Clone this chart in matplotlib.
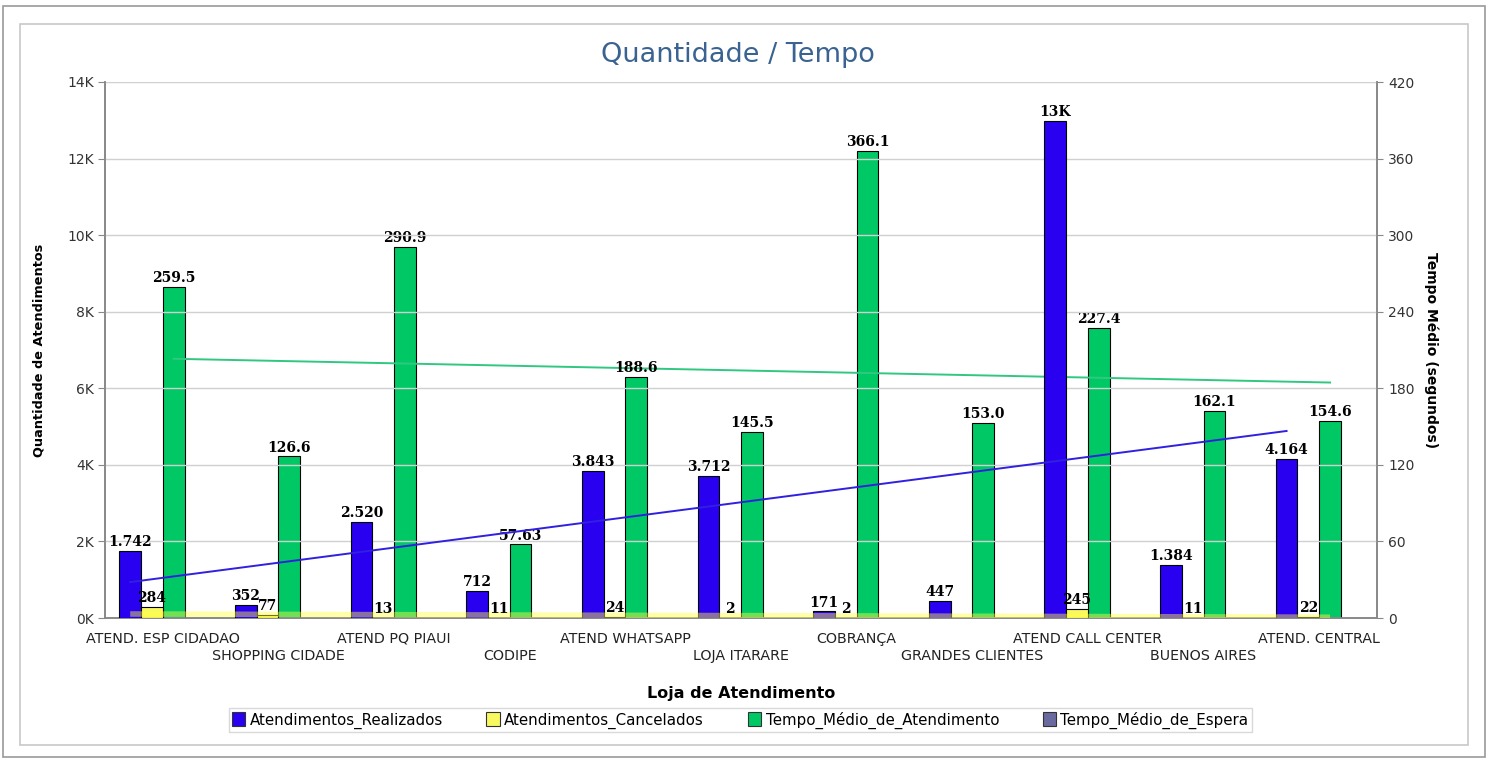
import numpy as np
import matplotlib
matplotlib.use("Agg")
import matplotlib.pyplot as plt
from matplotlib.patches import Rectangle, Patch
from matplotlib.ticker import FuncFormatter, FixedLocator, FixedFormatter

# ---------------- data ----------------
categories = ["ATEND. ESP CIDADAO", "SHOPPING CIDADE", "ATEND PQ PIAUI", "CODIPE",
              "ATEND WHATSAPP", "LOJA ITARARE", "COBRANÇA", "GRANDES CLIENTES",
              "ATEND CALL CENTER", "BUENOS AIRES", "ATEND. CENTRAL"]
realizados = [1742, 352, 2520, 712, 3843, 3712, 171, 447, 12980, 1384, 4164]
cancelados = [284, 77, 13, 11, 24, 2, 2, 0, 245, 11, 22]
tempo_atendimento = [259.5, 126.6, 290.9, 57.63, 188.6, 145.5, 366.1, 153.0, 227.4, 162.1, 154.6]
tempo_espera = [0, 0, 0, 0, 0, 0, 0, 0, 0, 0, 0]

series_names = ["Atendimentos_Realizados", "Atendimentos_Cancelados",
                "Tempo_Médio_de_Atendimento", "Tempo_Médio_de_Espera"]
left_ticks = [0, 2000, 4000, 6000, 8000, 10000, 12000, 14000]
right_ticks = [0, 60, 120, 180, 240, 300, 360, 420]

# ---------------- style ----------------
C_BLUE = "#2a00f0"
C_YEL = "#f8f860"
C_GRN = "#00c864"
C_GRAY = "#6a6aa0"

W, H = 1488, 760
fig = plt.figure(figsize=(W / 100, H / 100), dpi=100)
fig.patch.set_facecolor("white")

# frames
fig.add_artist(Rectangle((3 / W, 1 - 757 / H), 1482 / W, 751 / H, transform=fig.transFigure,
                         fill=False, edgecolor="#9a9a9a", linewidth=1.2))
fig.add_artist(Rectangle((20 / W, 1 - 745 / H), 1448 / W, 721 / H, transform=fig.transFigure,
                         fill=False, edgecolor="#c8c8c8", linewidth=1.2))

ax = fig.add_axes([105 / W, 1 - 618 / H, 1272 / W, 536 / H])
ax2 = ax.twinx()

x = np.arange(len(categories))
w = 0.188
off = [-1.5 * w, -0.5 * w, 0.5 * w, 1.5 * w]

label_font = dict(family="DejaVu Serif", fontweight="bold", fontsize=10, color="black")


def fmt_count(v):
    if v >= 10000:
        return f"{round(v / 1000)}K"
    return f"{int(v):,}".replace(",", ".")


def fmt_time(v):
    d = max(0, 3 - int(np.floor(np.log10(v))))
    return f"{v:.{d}f}"


ax.bar(x + off[0], realizados, w, color=C_BLUE, edgecolor="black", linewidth=0.8, zorder=3)
ax.bar(x + off[1], cancelados, w, color=C_YEL, edgecolor="black", linewidth=0.8, zorder=3)
ax2.bar(x + off[2], tempo_atendimento, w, color=C_GRN, edgecolor="black", linewidth=0.8, zorder=3)
ax2.bar(x + off[3], tempo_espera, w, color=C_GRAY, edgecolor="black", linewidth=0, zorder=3)

for xi, v in zip(x, realizados):
    ax.text(xi + off[0], v + 50, fmt_count(v), ha="center", va="bottom", zorder=6, **label_font)
for xi, v in zip(x, cancelados):
    if v > 0:
        ax.text(xi + off[1], v + 50, fmt_count(v), ha="center", va="bottom", zorder=6, **label_font)
for xi, v in zip(x, tempo_atendimento):
    ax2.text(xi + off[2], v + 1.5, fmt_time(v), ha="center", va="bottom", zorder=6, **label_font)


# trend lines (linear regression on category index)
def trend(vals):
    k, b = np.polyfit(x, np.asarray(vals, float), 1)
    return k * x + b


ty = trend(cancelados)
ax.plot([x[0] + off[0], x[-1] + off[2]], [ty[0], ty[-1]], color="#ffff40", alpha=0.45,
        linewidth=4, zorder=4, solid_capstyle="butt")
tb = trend(realizados)
ax.plot([x[0] + off[0], x[-1] + off[0]], [tb[0], tb[-1]], color="#3020e0", linewidth=1.4, zorder=5)
tg = trend(tempo_atendimento)
ax2.plot([x[0] + off[2], x[-1] + off[2]], [tg[0], tg[-1]], color="#30c880", linewidth=1.4, zorder=5)

# axes
ax.set_xlim(-0.5, len(categories) - 0.5)
ax.set_ylim(0, 14000)
ax2.set_ylim(0, 420)
ax.set_yticks(left_ticks)
ax.yaxis.set_major_formatter(FuncFormatter(lambda v, p: f"{int(v / 1000)}K"))
ax2.set_yticks(right_ticks)
ax.grid(axis="y", which="major", color="#d0d0d0", linewidth=1.0, zorder=0)
ax.set_axisbelow(True)
ax.set_zorder(ax2.get_zorder() + 1)
ax.patch.set_visible(False)

# staggered category labels: even ones as major ticks, odd ones as minor ticks (lower row)
even = x[::2]
odd = x[1::2]
ax.xaxis.set_major_locator(FixedLocator(even))
ax.xaxis.set_major_formatter(FixedFormatter([categories[i] for i in even]))
ax.xaxis.set_minor_locator(FixedLocator(odd))
ax.xaxis.set_minor_formatter(FixedFormatter([categories[i] for i in odd]))
ax.tick_params(axis="x", which="major", length=0, pad=10, labelsize=10.3, labelcolor="#222222")
ax.tick_params(axis="x", which="minor", length=0, pad=22, labelsize=10.3, labelcolor="#222222")
ax.tick_params(axis="y", length=5, width=0.8, color="#888888", labelsize=10, labelcolor="#333333", pad=3)
ax2.tick_params(axis="y", length=4, width=0.8, color="#888888", labelsize=10, labelcolor="#333333", pad=4)

for a in (ax, ax2):
    a.spines["top"].set_visible(False)
    for s in ("left", "right", "bottom"):
        a.spines[s].set_color("#888888")
        a.spines[s].set_linewidth(1.2)

ax.set_ylabel("Quantidade de Atendimentos", family="DejaVu Sans", fontweight="bold", fontsize=9.3)
ax.yaxis.set_label_coords(-0.047, 0.5)
ax2.set_ylabel("Tempo Médio (segundos)", rotation=270, va="center", family="DejaVu Sans",
               fontweight="bold", fontsize=10)
ax2.yaxis.set_label_coords(1.043, 0.5)
ax.set_xlabel("Loja de Atendimento", family="DejaVu Sans", fontweight="bold", fontsize=11.5)
ax.xaxis.set_label_coords(0.5, -0.127)

fig.text(738 / W, 1 - 55 / H, "Quantidade / Tempo", ha="center", va="center",
         fontsize=19.5, color="#3b6391", family="DejaVu Sans")

handles = [Patch(facecolor=c, edgecolor="#333333", linewidth=0.8) for c in (C_BLUE, C_YEL, C_GRN, C_GRAY)]
leg = fig.legend(handles, series_names, loc="center", bbox_to_anchor=(740 / W, 1 - 720 / H),
                 ncol=4, fontsize=10.8, frameon=True, fancybox=False, edgecolor="#d0d0d0",
                 handlelength=0.9, handleheight=1.1, handletextpad=0.3, columnspacing=2.9,
                 borderpad=0.2, borderaxespad=0)
leg.get_frame().set_linewidth(1.0)

fig.savefig("out.png", dpi=100, facecolor="white")
